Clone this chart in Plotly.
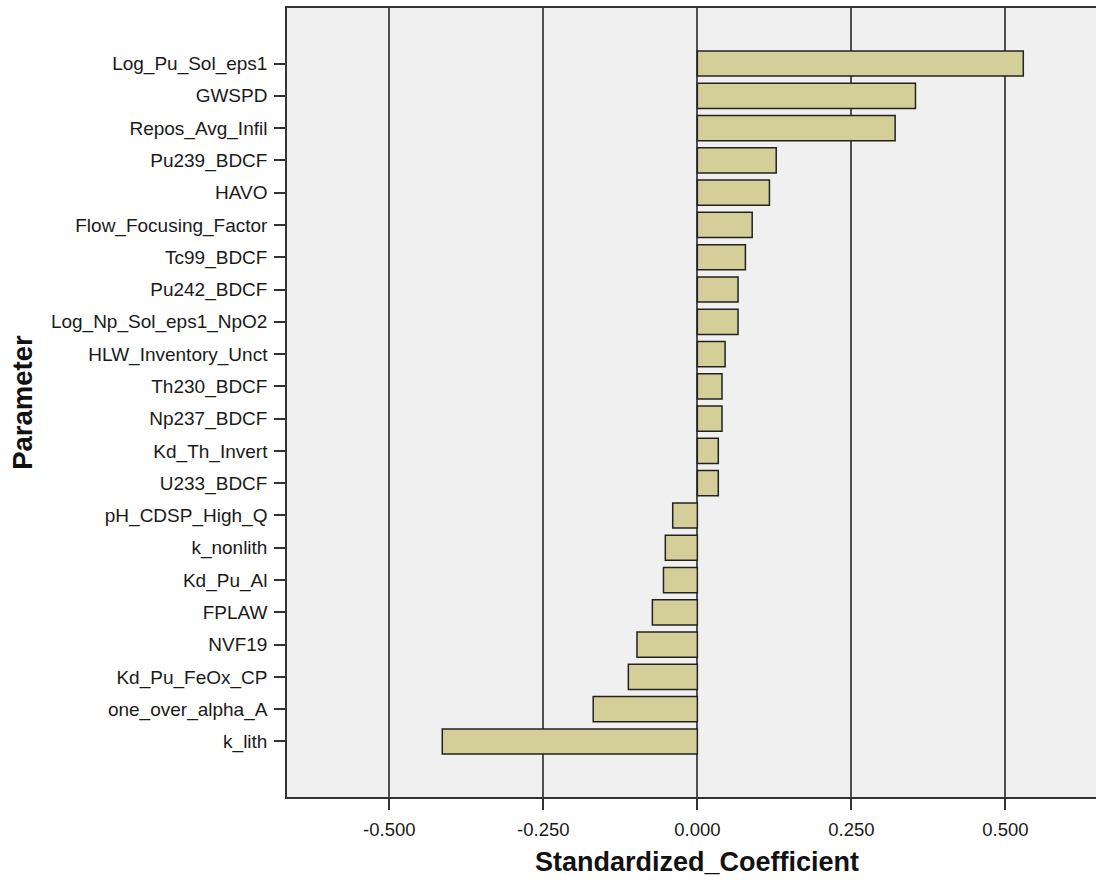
import plotly.graph_objects as go

# Standardized regression coefficients per parameter (top to bottom)
parameters = [
    "Log_Pu_Sol_eps1", "GWSPD", "Repos_Avg_Infil", "Pu239_BDCF", "HAVO",
    "Flow_Focusing_Factor", "Tc99_BDCF", "Pu242_BDCF", "Log_Np_Sol_eps1_NpO2",
    "HLW_Inventory_Unct", "Th230_BDCF", "Np237_BDCF", "Kd_Th_Invert", "U233_BDCF",
    "pH_CDSP_High_Q", "k_nonlith", "Kd_Pu_Al", "FPLAW", "NVF19",
    "Kd_Pu_FeOx_CP", "one_over_alpha_A", "k_lith",
]
coefficients = [
    0.529, 0.354, 0.321, 0.128, 0.117,
    0.089, 0.078, 0.066, 0.066,
    0.045, 0.040, 0.040, 0.034, 0.034,
    -0.040, -0.052, -0.055, -0.073, -0.098,
    -0.112, -0.169, -0.414,
]
x_ticks = [-0.5, -0.25, 0.0, 0.25, 0.5]
x_tick_labels = ["-0.500", "-0.250", "0.000", "0.250", "0.500"]
x_title = "Standardized_Coefficient"
y_title = "Parameter"

fig = go.Figure(
    go.Bar(
        x=coefficients,
        y=parameters,
        orientation="h",
        width=0.78,
        marker=dict(color="#d4ce98", line=dict(color="#222222", width=1.5)),
        hoverinfo="x+y",
    )
)

n = len(parameters)
pad = 1.72
font_family = "Liberation Sans, Arial, sans-serif"

fig.update_layout(
    width=1096,
    height=880,
    margin=dict(l=287, r=0, t=8, b=83),
    paper_bgcolor="white",
    plot_bgcolor="#f0f0f0",
    showlegend=False,
    font=dict(family=font_family, size=18, color="#1a1a1a"),
    xaxis=dict(
        range=[-0.666, 0.647],
        tickvals=x_ticks,
        ticktext=x_tick_labels,
        ticks="outside",
        ticklen=11,
        tickcolor="#333333",
        tickwidth=1.5,
        ticklabelstandoff=4,
        showgrid=True,
        gridcolor="#505050",
        gridwidth=1.5,
        zeroline=False,
        showline=True,
        linecolor="#333333",
        linewidth=1.5,
        mirror=True,
        tickfont=dict(family=font_family, size=18.5, color="#1a1a1a"),
    ),
    yaxis=dict(
        type="category",
        categoryorder="array",
        categoryarray=parameters,
        range=[n - 1 + pad, -pad],
        ticks="outside",
        ticklen=11,
        tickcolor="#333333",
        tickwidth=1.5,
        ticklabelstandoff=3,
        showgrid=False,
        zeroline=False,
        showline=True,
        linecolor="#333333",
        linewidth=1.5,
        tickfont=dict(family=font_family, size=19, color="#1a1a1a"),
        title=dict(
            text=f"<b>{y_title}</b>",
            font=dict(family=font_family, size=27.5, color="#111111"),
            standoff=10,
        ),
    ),
)

# x-axis title centred on the zero value
fig.add_annotation(
    text=f"<b>{x_title}</b>",
    x=0,
    xref="x",
    y=-0.0824,
    yref="paper",
    xanchor="center",
    yanchor="middle",
    showarrow=False,
    font=dict(family=font_family, size=27, color="#111111"),
)

fig.write_html("out.html")
